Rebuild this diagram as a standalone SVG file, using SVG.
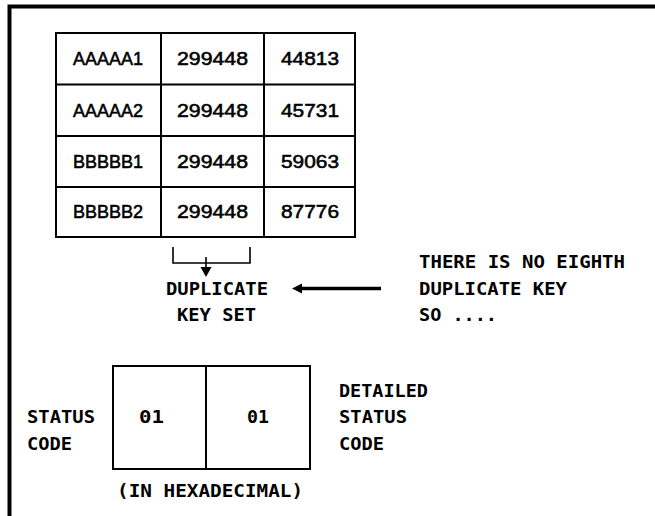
<svg xmlns="http://www.w3.org/2000/svg" width="655" height="516" viewBox="0 0 655 516">
<style>
.frame{stroke:#000;stroke-width:4;fill:none}
.cell{fill:#fff;stroke:#000;stroke-width:2}
.tbl{font-family:"Liberation Sans",Arial,sans-serif;font-size:18.5px;fill:#000;stroke:#000;stroke-width:0.55}
.lbl{font-family:"DejaVu Sans Mono","Liberation Mono",monospace;font-size:18px;font-weight:bold;fill:#000}
.thin{stroke:#000;stroke-width:1.6;fill:none}
</style>
<rect width="655" height="516" fill="#fff"/>
<g id="frame">
<path class="frame" d="M9.5 516 V6.5 H655"/>
</g>
<g id="table">
<rect class="cell" x="56" y="33" width="299" height="204"/>
<path class="thin" style="stroke-width:2" d="M56 84.5H355M56 136H355M56 187H355M161 33V237M264 33V237"/>
<text class="tbl" x="73" y="65" textLength="70" lengthAdjust="spacingAndGlyphs">AAAAA1</text>
<text class="tbl" x="177" y="65" textLength="71" lengthAdjust="spacingAndGlyphs">299448</text>
<text class="tbl" x="281" y="65" textLength="58" lengthAdjust="spacingAndGlyphs">44813</text>
<text class="tbl" x="73" y="117" textLength="70" lengthAdjust="spacingAndGlyphs">AAAAA2</text>
<text class="tbl" x="177" y="117" textLength="71" lengthAdjust="spacingAndGlyphs">299448</text>
<text class="tbl" x="281" y="117" textLength="58" lengthAdjust="spacingAndGlyphs">45731</text>
<text class="tbl" x="73" y="168" textLength="70" lengthAdjust="spacingAndGlyphs">BBBBB1</text>
<text class="tbl" x="177" y="168" textLength="71" lengthAdjust="spacingAndGlyphs">299448</text>
<text class="tbl" x="281" y="168" textLength="58" lengthAdjust="spacingAndGlyphs">59063</text>
<text class="tbl" x="73" y="218" textLength="70" lengthAdjust="spacingAndGlyphs">BBBBB2</text>
<text class="tbl" x="177" y="218" textLength="71" lengthAdjust="spacingAndGlyphs">299448</text>
<text class="tbl" x="281" y="218" textLength="58" lengthAdjust="spacingAndGlyphs">87776</text>
</g>
<g id="connectors">
<path class="thin" d="M173 247V263H250V247M206 257V268"/>
<polygon points="200.5,267 211.5,267 206,277" fill="#000"/>
<path d="M381 288.5H300" stroke="#000" stroke-width="3.5"/>
<polygon points="292,288.5 302,283.5 302,293.5" fill="#000"/>
</g>
<g id="dupkey">
<text class="lbl" x="166" y="295" textLength="102" lengthAdjust="spacingAndGlyphs">DUPLICATE</text>
<text class="lbl" x="177" y="321" textLength="79" lengthAdjust="spacingAndGlyphs">KEY SET</text>
</g>
<g id="note">
<text class="lbl" x="419" y="268" textLength="206" lengthAdjust="spacingAndGlyphs">THERE IS NO EIGHTH</text>
<text class="lbl" x="419" y="295" textLength="148" lengthAdjust="spacingAndGlyphs">DUPLICATE KEY</text>
<text class="lbl" x="419" y="321" textLength="78" lengthAdjust="spacingAndGlyphs">SO ....</text>
</g>
<g id="status">
<rect class="cell" x="113" y="366" width="197" height="103"/>
<path class="thin" style="stroke-width:2" d="M206 366V469"/>
<text class="lbl" x="139" y="423" textLength="25" lengthAdjust="spacingAndGlyphs">01</text>
<text class="lbl" x="247" y="423" textLength="22" lengthAdjust="spacingAndGlyphs">01</text>
</g>
<g id="labels">
<text class="lbl" x="27" y="423" textLength="68" lengthAdjust="spacingAndGlyphs">STATUS</text>
<text class="lbl" x="27" y="450" textLength="45" lengthAdjust="spacingAndGlyphs">CODE</text>
<text class="lbl" x="339" y="397" textLength="89" lengthAdjust="spacingAndGlyphs">DETAILED</text>
<text class="lbl" x="339" y="423" textLength="68" lengthAdjust="spacingAndGlyphs">STATUS</text>
<text class="lbl" x="339" y="450" textLength="45" lengthAdjust="spacingAndGlyphs">CODE</text>
<text class="lbl" x="117" y="497" textLength="186" lengthAdjust="spacingAndGlyphs">(IN HEXADECIMAL)</text>
</g>
</svg>
